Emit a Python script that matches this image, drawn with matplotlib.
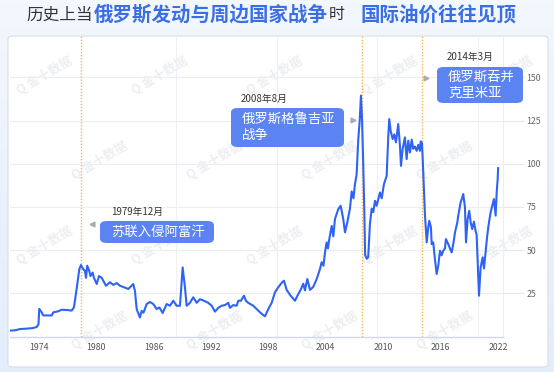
import matplotlib

matplotlib.use("Agg")
import matplotlib.pyplot as plt
import numpy as np
from matplotlib.lines import Line2D
from matplotlib.patches import FancyBboxPatch

plt.rcParams["font.family"] = ["Noto Sans CJK SC", "DejaVu Sans"]

W, H = 554, 372
OUTPUT_PNG = "out.png"

# Brent-style monthly price (x = position on the time axis)
years = [
    1970.97, 1971.5, 1972.01, 1972.8, 1973.37, 1973.76, 1973.95, 1974.03, 1974.28, 1974.45,
    1975.33, 1975.50, 1976.02, 1976.37, 1977.0, 1977.42, 1977.66, 1977.94, 1978.22, 1978.39,
    1978.63, 1978.81, 1978.92, 1979.05, 1979.26, 1979.39, 1979.62, 1979.75, 1980.04, 1980.28,
    1980.56, 1980.73, 1981.01, 1981.43, 1981.77, 1982.13, 1982.47, 1983.00, 1983.34, 1983.62,
    1983.86, 1984.04, 1984.22, 1984.56, 1984.74, 1984.93, 1985.27, 1985.61, 1985.96, 1986.31,
    1986.60, 1986.94, 1987.36, 1987.70, 1988.05, 1988.40, 1988.75, 1989.03, 1989.27, 1989.45,
    1989.79, 1990.14, 1990.50, 1990.84, 1991.26, 1991.71, 1992.07, 1992.41, 1992.76, 1993.11,
    1993.46, 1993.80, 1993.98, 1994.32, 1994.68, 1994.85, 1995.13, 1995.44, 1995.65, 1995.89,
    1996.42, 1996.77, 1997.12, 1997.46, 1997.64, 1997.99, 1998.34, 1998.69, 1999.03, 1999.39,
    1999.63, 1999.91, 2000.33, 2000.78, 2001.12, 2001.37, 2001.65, 2001.82, 2002.07, 2002.35,
    2002.69, 2003.05, 2003.39, 2003.57, 2003.76, 2003.92, 2004.09, 2004.23, 2004.37, 2004.62,
    2004.79, 2004.96, 2005.31, 2005.56, 2005.83, 2006.01, 2006.25, 2006.53, 2006.71, 2006.90,
    2007.05, 2007.23, 2007.40, 2007.55, 2007.68, 2007.80, 2007.92, 2008.05, 2008.12, 2008.30,
    2008.44, 2008.62, 2008.80, 2008.97, 2009.15, 2009.32, 2009.67, 2009.85, 2010.09, 2010.37,
    2010.54, 2010.64, 2010.79, 2011.00, 2011.17, 2011.34, 2011.58, 2011.76, 2011.87, 2012.04,
    2012.28, 2012.46, 2012.63, 2012.81, 2012.99, 2013.15, 2013.33, 2013.51, 2013.68, 2013.85,
    2013.93, 2014.06, 2014.14, 2014.25, 2014.38, 2014.56, 2014.72, 2014.83, 2015.00, 2015.08,
    2015.24, 2015.42, 2015.60, 2015.77, 2015.95, 2016.12, 2016.29, 2016.47, 2016.57, 2016.81,
    2016.99, 2017.17, 2017.34, 2017.52, 2017.76, 2017.86, 2018.11, 2018.28, 2018.38, 2018.56,
    2018.67, 2018.84, 2019.01, 2019.16, 2019.32, 2019.50, 2019.68, 2019.78, 2019.85, 2020.03,
    2020.20, 2020.41, 2020.55, 2020.73, 2020.89, 2021.07, 2021.25, 2021.42, 2021.59, 2021.77,
    2021.88, 2021.98, 2022.03,
]
prices = [
    3.4, 3.6, 4.3, 4.6, 4.9, 5.5, 7.0, 16.0, 14.0, 12.2,
    12.2, 14.0, 14.6, 15.5, 15.3, 15.0, 16.9, 27.5, 39.0, 41.4,
    39.0, 38.0, 34.0, 41.0, 38.0, 35.0, 37.0, 34.0, 30.4, 35.0,
    34.0, 32.3, 29.4, 31.4, 29.9, 30.9, 29.4, 28.3, 27.5, 29.0,
    30.4, 26.4, 15.9, 11.0, 14.8, 13.8, 18.8, 20.0, 18.8, 15.9,
    16.8, 13.6, 18.8, 17.8, 20.7, 17.8, 17.8, 40.0, 28.5, 17.8,
    19.5, 22.7, 19.5, 21.6, 20.7, 19.5, 17.8, 14.4, 16.6, 17.8,
    18.2, 19.5, 16.6, 18.2, 17.8, 20.7, 20.7, 23.6, 20.7, 19.5,
    17.8, 15.9, 14.0, 12.4, 11.7, 15.9, 19.5, 25.6, 28.5, 31.1,
    32.3, 27.0, 23.6, 20.7, 24.5, 27.0, 30.6, 26.7, 33.3, 27.0,
    28.7, 33.3, 39.0, 43.0, 41.0, 48.7, 54.5, 51.0, 56.4, 64.0,
    58.0, 68.0, 73.8, 75.7, 68.0, 60.3, 66.0, 74.0, 84.0, 80.0,
    88.0, 94.0, 114.0, 125.0, 139.5, 125.0, 100.0, 68.0, 47.0, 45.0,
    46.0, 65.0, 74.0, 72.0, 78.6, 75.7, 83.4, 80.0, 88.3, 93.0,
    116.0, 125.9, 119.0, 114.3, 117.0, 112.4, 123.0, 110.4, 98.8, 108.5,
    115.3, 102.7, 113.4, 106.6, 114.0, 108.7, 110.0, 107.5, 111.0, 107.5,
    113.0, 112.0, 103.0, 88.0, 70.0, 54.5, 63.2, 67.0, 63.2, 53.5,
    54.5, 44.8, 36.2, 41.0, 49.7, 47.0, 49.7, 51.0, 56.4, 53.5,
    51.0, 48.7, 53.5, 60.3, 66.0, 70.0, 77.7, 80.5, 82.5, 74.8,
    54.5, 68.0, 72.8, 66.0, 62.2, 66.5, 61.0, 58.9, 48.7, 23.6,
    40.0, 45.8, 39.4, 49.7, 58.3, 66.0, 72.0, 75.7, 79.6, 70.0,
    83.4, 91.0, 97.5,
]

x_ticks = [1974, 1980, 1986, 1992, 1998, 2004, 2010, 2016, 2022]
y_ticks = [25, 50, 75, 100, 125, 150]
split_years = [1988.33, 1998.9, 2009.36, 2019.92]

event_years = [1978.39, 2007.79, 2014.06]
event_dates = ["1979年12月", "2008年8月", "2014年3月"]
event_labels = ["苏联入侵阿富汗", "俄罗斯格鲁吉亚\n战争", "俄罗斯吞并\n克里米亚"]

BLUE_TEXT = "#3a6ee6"
LINE_BLUE = "#2f63f4"
BOX_BLUE = "#5b84f2"
ORANGE = "#f6b351"


def fx(x):
    return x / W


def fy(y):
    return 1 - y / H


def main():
    fig = plt.figure(figsize=(W / 100, H / 100), dpi=100)

    # page background
    bg = fig.add_axes([0, 0, 1, 1], zorder=-5)
    grad = np.linspace(0, 1, 100).reshape(-1, 1)
    bg.imshow(grad, aspect="auto", cmap=matplotlib.colors.LinearSegmentedColormap.from_list(
        "bg", ["#f3f7fe", "#e4edfb"]), extent=[0, 1, 0, 1], transform=bg.transAxes)
    bg.set_axis_off()

    card = FancyBboxPatch((fx(8), fy(367)), fx(540), (367 - 36) / H,
                          boxstyle="round,pad=0,rounding_size=0.008",
                          transform=fig.transFigure, facecolor="white",
                          edgecolor="#d6deea", linewidth=0.8, zorder=-4)
    fig.add_artist(card)

    ax = fig.add_axes([fx(10), fy(336.5), fx(493), (336.5 - 36) / H])
    ax.patch.set_alpha(0)

    # watermark tiles, kept inside the card
    for row, yy in enumerate(range(75, 360, 85)):
        for xx in range(45 + (row % 2) * 55, 520, 115):
            fig.text(fx(xx), fy(yy), "Q 金十数据", fontsize=9, color="#eceef2",
                     rotation=30, ha="center", va="center", zorder=-3, weight="bold")

    ax.plot(years, prices, color=LINE_BLUE, linewidth=1.5, zorder=4, solid_joinstyle="round")

    for xv in event_years:
        ax.axvline(xv, color=ORANGE, linestyle=(0, (1, 1.2)), linewidth=1.0, zorder=3)
    for xv in split_years:
        ax.axvline(xv, color="#eef0f4", linewidth=0.8, zorder=1)

    ax.set_xlim(1970.97, 2022.54)
    ax.set_ylim(0, 174)
    ax.set_xticks(x_ticks)
    ax.set_yticks(y_ticks)
    ax.grid(axis="y", color="#eceef2", linewidth=0.8, zorder=1)
    ax.yaxis.tick_right()
    ax.tick_params(axis="y", length=15, width=0.8, color="#e6e8ee", pad=2,
                   labelsize=6.3, labelcolor="#666666")
    ax.tick_params(axis="x", length=0, pad=5, labelsize=6.3, labelcolor="#555555")
    for side in ["top", "left"]:
        ax.spines[side].set_visible(False)
    ax.spines["right"].set_color("#eceef2")
    ax.spines["right"].set_linewidth(0.8)
    ax.spines["bottom"].set_color("#cfd9ea")
    ax.spines["bottom"].set_linewidth(1.0)

    # title, pieced together from coloured parts
    parts = [
        ("历史上当", "#333333", 12, "normal", 0),
        ("俄罗斯发动与周边国家战争", BLUE_TEXT, 14, "bold", 0),
        ("时", "#333333", 11.5, "normal", 0),
        ("国际油价往往见顶", BLUE_TEXT, 14, "bold", 15),
    ]
    fig.canvas.draw()
    renderer = fig.canvas.get_renderer()
    x0 = 26
    for text, color, size, weight, gap in parts:
        x0 += gap
        t = fig.text(fx(x0), fy(15), text, color=color, fontsize=size, weight=weight,
                     ha="left", va="center")
        bb = t.get_window_extent(renderer)
        x0 += bb.width + 1

    # event annotations (boxes placed in pixel space of the figure)
    boxes = [
        ((100, 221, 214, 243), (92, 224), "<"),
        ((231, 108, 344, 147), (353, 120), ">"),
        ((437, 67, 523, 103), (426, 78), ">"),
    ]
    date_pos = [(111, 212), (241, 99), (447, 57)]
    for (rect, marker_xy, mk), label, date, (dx, dy) in zip(boxes, event_labels,
                                                          event_dates, date_pos):
        bx0, by0, bx1, by1 = rect
        mx, my = marker_xy
        patch = FancyBboxPatch((fx(bx0), fy(by1)), fx(bx1 - bx0), (by1 - by0) / H,
                               boxstyle="round,pad=0,rounding_size=0.012",
                               transform=fig.transFigure, facecolor=BOX_BLUE,
                               edgecolor="none", zorder=6)
        fig.add_artist(patch)
        fig.text(fx(bx0 + 11), fy((by0 + by1) / 2), label, color="white", fontsize=9.6,
                 ha="left", va="center", linespacing=1.15, zorder=7)
        fig.text(fx(dx), fy(dy), date, color="#333333", fontsize=7, ha="left",
                 va="center", zorder=7)
        fig.add_artist(Line2D([fx(mx)], [fy(my)], marker=mk, markersize=3.5,
                              color="#a9acb2", transform=fig.transFigure, zorder=7))

    fig.savefig(OUTPUT_PNG, dpi=100)
    plt.close(fig)


if __name__ == "__main__":
    main()
